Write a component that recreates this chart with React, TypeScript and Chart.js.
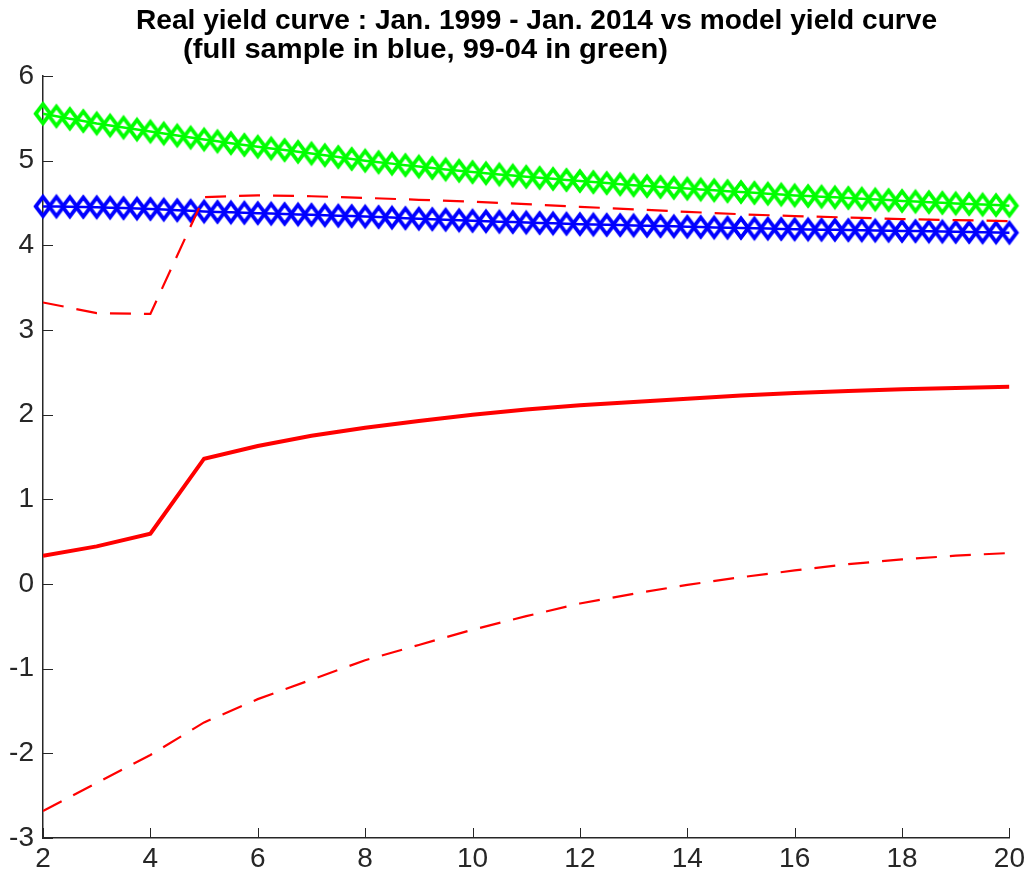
import React, { useEffect, useRef } from "react";
import { Chart, registerables } from "chart.js";

Chart.register(...registerables);

// ---- text ----
const titleLine1 = "Real yield curve : Jan. 1999 - Jan. 2014 vs model yield curve";
const titleLine2 = "(full sample in blue, 99-04 in green)";

// ---- categories ----
const maturities = [2, 3, 4, 5, 6, 7, 8, 9, 10, 11, 12, 13, 14, 15, 16, 17, 18, 19, 20];
const quarterMaturities = [
  2, 2.25, 2.5, 2.75, 3, 3.25, 3.5, 3.75, 4, 4.25, 4.5, 4.75, 5, 5.25, 5.5, 5.75,
  6, 6.25, 6.5, 6.75, 7, 7.25, 7.5, 7.75, 8, 8.25, 8.5, 8.75, 9, 9.25, 9.5, 9.75,
  10, 10.25, 10.5, 10.75, 11, 11.25, 11.5, 11.75, 12, 12.25, 12.5, 12.75, 13, 13.25, 13.5, 13.75,
  14, 14.25, 14.5, 14.75, 15, 15.25, 15.5, 15.75, 16, 16.25, 16.5, 16.75, 17, 17.25, 17.5, 17.75,
  18, 18.25, 18.5, 18.75, 19, 19.25, 19.5, 19.75, 20,
];

// ---- series (model, at integer maturities) ----
const modelMean = [0.334, 0.444, 0.595, 1.48, 1.63, 1.75, 1.845, 1.925, 2.0, 2.06, 2.11, 2.15, 2.188, 2.225, 2.255, 2.28, 2.3, 2.315, 2.33];
const modelUpper = [3.325, 3.2, 3.19, 4.57, 4.59, 4.58, 4.56, 4.538, 4.515, 4.487, 4.455, 4.425, 4.395, 4.367, 4.345, 4.328, 4.31, 4.298, 4.286];
const modelLower = [-2.68, -2.35, -2.02, -1.635, -1.36, -1.13, -0.9, -0.72, -0.54, -0.38, -0.23, -0.115, -0.01, 0.08, 0.16, 0.235, 0.29, 0.335, 0.366];

// ---- series (data, at quarter maturities) ----
const fullSample = [
  4.46, 4.458, 4.455, 4.453, 4.45, 4.445, 4.44, 4.435, 4.43, 4.422, 4.415, 4.408, 4.4, 4.395, 4.39, 4.385,
  4.38, 4.375, 4.37, 4.365, 4.36, 4.355, 4.35, 4.345, 4.34, 4.334, 4.328, 4.321, 4.315, 4.309, 4.303, 4.296,
  4.29, 4.285, 4.28, 4.275, 4.27, 4.265, 4.26, 4.255, 4.25, 4.246, 4.242, 4.239, 4.235, 4.231, 4.228, 4.224,
  4.22, 4.216, 4.212, 4.209, 4.205, 4.201, 4.198, 4.194, 4.19, 4.188, 4.185, 4.183, 4.18, 4.178, 4.175, 4.173,
  4.17, 4.168, 4.165, 4.163, 4.16, 4.158, 4.155, 4.153, 4.15,
];
const sample9904 = [
  5.555, 5.525, 5.495, 5.468, 5.44, 5.416, 5.392, 5.368, 5.345, 5.321, 5.297, 5.273, 5.25, 5.228, 5.207, 5.186,
  5.165, 5.145, 5.125, 5.105, 5.085, 5.064, 5.043, 5.021, 5.0, 4.982, 4.965, 4.947, 4.93, 4.914, 4.897, 4.881,
  4.865, 4.851, 4.837, 4.824, 4.81, 4.797, 4.785, 4.772, 4.76, 4.747, 4.735, 4.722, 4.71, 4.7, 4.69, 4.68,
  4.67, 4.66, 4.65, 4.64, 4.63, 4.62, 4.61, 4.6, 4.59, 4.582, 4.575, 4.567, 4.56, 4.551, 4.542, 4.534,
  4.525, 4.517, 4.51, 4.502, 4.495, 4.488, 4.481, 4.475, 4.468,
];

// ---- tick labels ----
const xTicks = [2, 4, 6, 8, 10, 12, 14, 16, 18, 20];
const yTicks = [-3, -2, -1, 0, 1, 2, 3, 4, 5, 6];

const AXIS_COLOR = "#262626";
const FONT = "'Liberation Sans', Arial, Helvetica, sans-serif";

function makeDiamond(color: string): HTMLCanvasElement {
  const c = document.createElement("canvas");
  c.width = 26;
  c.height = 32;
  const ctx = c.getContext("2d")!;
  ctx.strokeStyle = color;
  ctx.lineWidth = 3.8;
  ctx.lineJoin = "miter";
  ctx.beginPath();
  ctx.moveTo(13, 16 - 9.6);
  ctx.lineTo(13 + 7.3, 16);
  ctx.lineTo(13, 16 + 9.6);
  ctx.lineTo(13 - 7.3, 16);
  ctx.closePath();
  ctx.stroke();
  return c;
}

function pairs(xs: number[], ys: number[]) {
  return xs.map((x, i) => ({ x, y: ys[i] }));
}

function fitText(ctx: CanvasRenderingContext2D, text: string, left: number, baseline: number, width: number) {
  const w = ctx.measureText(text).width;
  ctx.save();
  ctx.translate(left, baseline);
  ctx.scale(width / w, 1);
  ctx.textAlign = "left";
  ctx.fillText(text, 0, 0);
  ctx.restore();
}

const titlePlugin = {
  id: "matlabTitle",
  afterDraw(chart: any) {
    const { ctx } = chart;
    ctx.save();
    ctx.fillStyle = "#000";
    ctx.font = `bold 28px ${FONT}`;
    ctx.textBaseline = "alphabetic";
    fitText(ctx, titleLine1, 136, 29, 801);
    fitText(ctx, titleLine2, 183, 58, 485);
    ctx.restore();
  },
};

const inwardTicksPlugin = {
  id: "inwardTicks",
  beforeDatasetsDraw(chart: any) {
    const { ctx, chartArea, scales } = chart;
    const x = scales.x;
    const y = scales.y;
    ctx.save();
    ctx.strokeStyle = AXIS_COLOR;
    ctx.lineWidth = 1;
    ctx.beginPath();
    x.ticks.forEach((t: any) => {
      const px = Math.round(x.getPixelForValue(t.value)) + 0.5;
      ctx.moveTo(px, chartArea.bottom);
      ctx.lineTo(px, chartArea.bottom - 10);
    });
    y.ticks.forEach((t: any) => {
      const py = Math.round(y.getPixelForValue(t.value)) + 0.5;
      ctx.moveTo(chartArea.left, py);
      ctx.lineTo(chartArea.left + 10, py);
    });
    ctx.stroke();
    ctx.restore();
  },
};

export default function App() {
  const ref = useRef<HTMLCanvasElement | null>(null);

  useEffect(() => {
    document.body.style.margin = "0";
    document.body.style.overflow = "hidden";
    const canvas = ref.current!;
    const greenDiamond = makeDiamond("#00ff00");
    const blueDiamond = makeDiamond("#0000ff");

    const chart = new Chart(canvas, {
      type: "line",
      data: {
        datasets: [
          {
            data: pairs(maturities, modelUpper),
            borderColor: "#ff0000",
            borderWidth: 2.2,
            borderDash: [21, 13],
            pointRadius: 0,
            fill: false,
            tension: 0,
          },
          {
            data: pairs(maturities, modelLower),
            borderColor: "#ff0000",
            borderWidth: 2.2,
            borderDash: [21, 13],
            pointRadius: 0,
            fill: false,
            tension: 0,
          },
          {
            data: pairs(maturities, modelMean),
            borderColor: "#ff0000",
            borderWidth: 4,
            pointRadius: 0,
            fill: false,
            tension: 0,
          },
          {
            data: pairs(quarterMaturities, fullSample),
            borderColor: "#0000ff",
            borderWidth: 2.5,
            pointStyle: blueDiamond,
            pointRadius: 10,
            fill: false,
            tension: 0,
            clip: false,
          },
          {
            data: pairs(quarterMaturities, sample9904),
            borderColor: "#00ff00",
            borderWidth: 2.5,
            pointStyle: greenDiamond,
            pointRadius: 10,
            fill: false,
            tension: 0,
            clip: false,
          },
        ] as any,
      },
      options: {
        responsive: false,
        animation: false,
        events: [],
        layout: { padding: { top: 76, right: 18, left: 0, bottom: 0 } },
        plugins: {
          legend: { display: false },
          tooltip: { enabled: false },
          title: { display: false },
        },
        scales: {
          x: {
            type: "linear",
            min: 2,
            max: 20,
            afterBuildTicks: (s: any) => {
              s.ticks = xTicks.map((v) => ({ value: v }));
            },
            afterFit: (s: any) => {
              s.height = 38;
            },
            ticks: {
              color: AXIS_COLOR,
              font: { family: FONT, size: 28 },
              padding: 4,
              maxRotation: 0,
              autoSkip: false,
            },
            grid: { display: false, drawTicks: false },
            border: { display: true, color: AXIS_COLOR, width: 1.5 },
          },
          y: {
            type: "linear",
            min: -3,
            max: 6,
            afterBuildTicks: (s: any) => {
              s.ticks = yTicks.map((v) => ({ value: v }));
            },
            afterFit: (s: any) => {
              s.width = 43;
            },
            ticks: {
              color: AXIS_COLOR,
              font: { family: FONT, size: 28 },
              padding: 9,
              autoSkip: false,
            },
            grid: { display: false, drawTicks: false },
            border: { display: true, color: AXIS_COLOR, width: 1.5 },
          },
        },
      },
      plugins: [titlePlugin, inwardTicksPlugin],
    });

    return () => {
      chart.destroy();
    };
  }, []);

  return (
    <canvas
      ref={ref}
      width={1029}
      height={876}
      style={{ display: "block", width: "1029px", height: "876px" }}
    />
  );
}
